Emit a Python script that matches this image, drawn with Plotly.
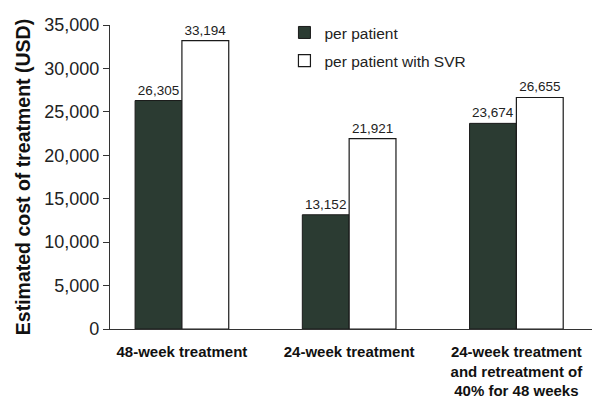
import plotly.graph_objects as go

categories = ["48-week treatment", "24-week treatment",
              "24-week treatment<br>and retreatment of<br>40% for 48 weeks"]
per_patient = [26305, 13152, 23674]
per_patient_svr = [33194, 21921, 26655]
y_ticks = [0, 5000, 10000, 15000, 20000, 25000, 30000, 35000]

fig = go.Figure()
fig.add_trace(go.Bar(
    x=categories, y=per_patient, name="per patient", legendgroup="a",
    marker=dict(color="#2b3b32", line=dict(color="#1a1a1a", width=1)),
    text=[f"{v:,}" for v in per_patient], textposition="outside",
    textfont=dict(size=13.5, color="#222", family="Liberation Sans, Arial"),
    cliponaxis=False,
))
fig.add_trace(go.Bar(
    x=categories, y=per_patient_svr, name="per patient with SVR", legendgroup="b",
    marker=dict(color="white", line=dict(color="#1a1a1a", width=1.2)),
    text=[f"{v:,}" for v in per_patient_svr], textposition="outside",
    textfont=dict(size=13.5, color="#222", family="Liberation Sans, Arial"),
    cliponaxis=False,
))

# page body adds an 8px offset, so the figure is 8px smaller and margins shifted
fig.update_layout(
    width=592, height=390,
    margin=dict(l=102, r=0, t=17, b=69, autoexpand=False),
    paper_bgcolor="white", plot_bgcolor="white",
    barmode="group", bargap=0.44, bargroupgap=0,
    font=dict(family="Liberation Sans, Arial", color="#222"),
    showlegend=True,
    legend=dict(x=0.356, y=1.03, xanchor="left", yanchor="top",
                font=dict(size=15.5, color="#222"), bgcolor="rgba(0,0,0,0)",
                itemwidth=30, tracegroupgap=5),
    xaxis=dict(range=[-0.43, 2.5], showline=True, linecolor="#333", linewidth=1.2,
               ticks="", tickfont=dict(size=15, color="#111"),
               ticklabelstandoff=9, automargin=False,
               showgrid=False),
    yaxis=dict(range=[0, 35000], tickvals=y_ticks,
               ticktext=[f"{v:,}" for v in y_ticks],
               showline=True, linecolor="#333", linewidth=1.2,
               ticks="outside", ticklen=6, tickcolor="#333",
               tickfont=dict(size=18, color="#222"), automargin=False,
               showgrid=False, zeroline=False,
               title=dict(text="<b>Estimated cost of treatment (USD)</b>",
                          font=dict(size=19.5, color="#111"), standoff=8)),
)
fig.update_xaxes(ticktext=["<b>48-week treatment</b>", "<b>24-week treatment</b>",
                           "<b>24-week treatment<br>and retreatment of<br>40% for 48 weeks</b>"],
                 tickvals=categories)
fig.write_html("out.html")
